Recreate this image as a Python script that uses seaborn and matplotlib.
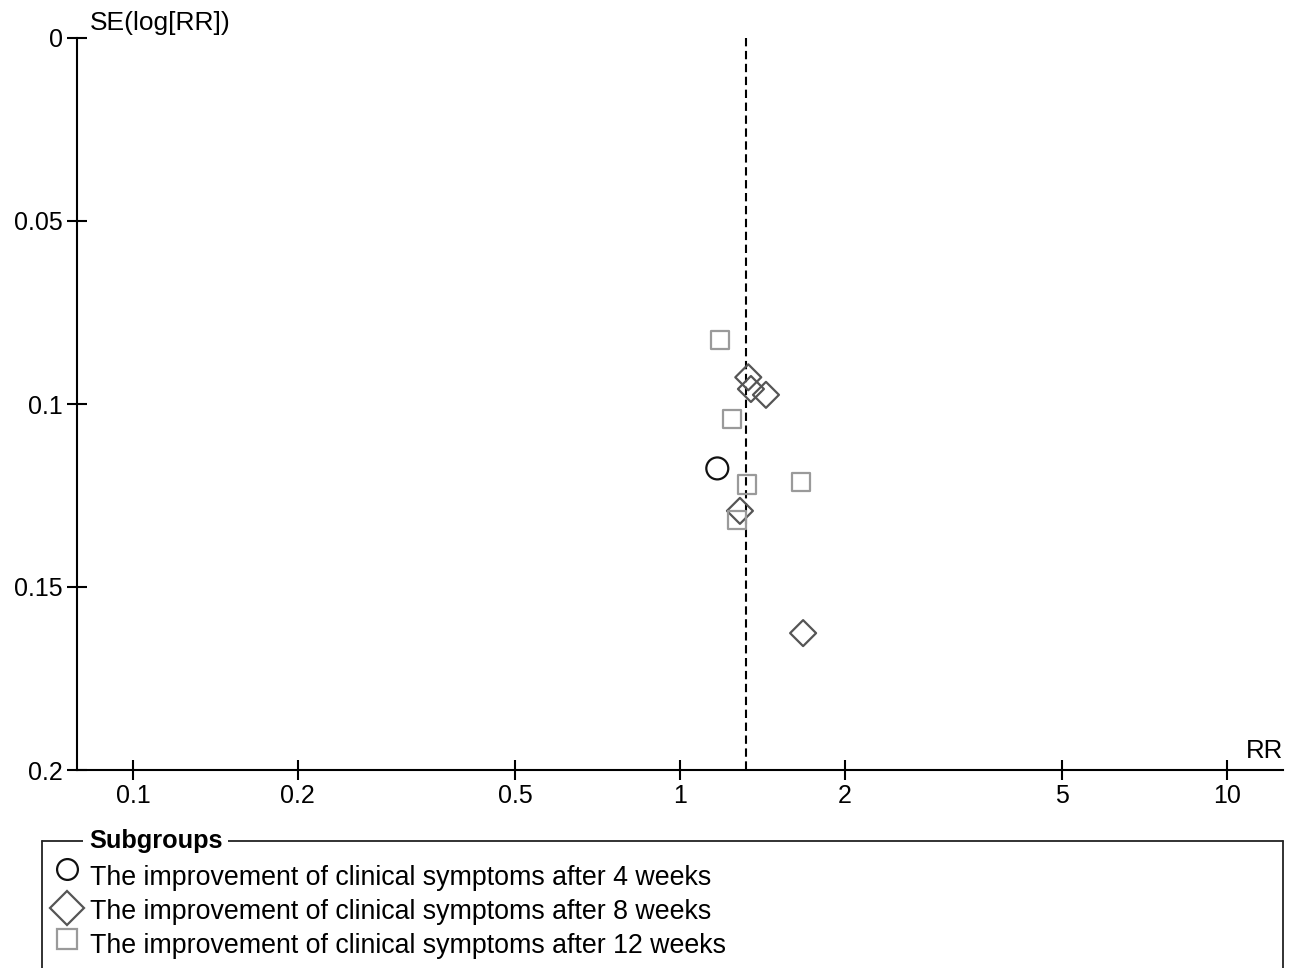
import numpy as np
import pandas as pd
import matplotlib
matplotlib.use("Agg")
import matplotlib.pyplot as plt
from matplotlib.lines import Line2D
import seaborn as sns

# ---- data ----
rr_4w = [1.170]
se_4w = [0.1176]
rr_8w = [1.333, 1.348, 1.436, 1.287, 1.679]
se_8w = [0.0927, 0.0959, 0.0975, 0.1292, 0.1626]
rr_12w = [1.183, 1.243, 1.324, 1.664, 1.273]
se_12w = [0.0825, 0.1041, 0.1220, 0.1214, 0.1317]
pooled_rr = 1.32

group_labels = [
    "The improvement of clinical symptoms after 4 weeks",
    "The improvement of clinical symptoms after 8 weeks",
    "The improvement of clinical symptoms after 12 weeks",
]
x_ticks = [0.1, 0.2, 0.5, 1, 2, 5, 10]
x_tick_labels = ["0.1", "0.2", "0.5", "1", "2", "5", "10"]
y_ticks = [0, 0.05, 0.1, 0.15, 0.2]
y_tick_labels = ["0", "0.05", "0.1", "0.15", "0.2"]

sns.set_style("white")
plt.rcParams["font.family"] = ["Liberation Sans", "DejaVu Sans"]
plt.rcParams["text.color"] = "black"

W, H = 1298, 968
fig = plt.figure(figsize=(W / 100, H / 100), dpi=100)
ax = fig.add_axes([77 / W, 1 - 770 / H, (1283 - 77) / W, (770 - 38) / H])

styles = [
    (rr_4w, se_4w, "o", 250, "#111111"),
    (rr_8w, se_8w, "D", 175, "#555555"),
    (rr_12w, se_12w, "s", 169, "#9a9a9a"),
]
for xs, ys, mk, sz, col in styles:
    df = pd.DataFrame({"RR": xs, "SE": ys})
    sns.scatterplot(data=df, x="RR", y="SE", marker=mk, s=sz,
                    facecolor="none", edgecolor=col, linewidth=1.6,
                    ax=ax, zorder=3, legend=False)

ax.plot([pooled_rr, pooled_rr], [0, 0.2], color="black", lw=1.5,
        linestyle=(0, (4, 2.2)), zorder=2)

ax.set_xscale("log")
ax.set_xlim(10 ** -1.1024, 10 ** 1.1024)
ax.set_ylim(0.2, 0)
ax.set_xticks(x_ticks)
ax.set_xticklabels(x_tick_labels)
ax.minorticks_off()
ax.set_yticks(y_ticks)
ax.set_yticklabels(y_tick_labels)
ax.set_xlabel("")
ax.set_ylabel("")
for s in ["top", "right"]:
    ax.spines[s].set_visible(False)
for s in ["left", "bottom"]:
    ax.spines[s].set_color("black")
    ax.spines[s].set_linewidth(1.5)
ax.tick_params(axis="x", bottom=True, top=False)
ax.tick_params(axis="y", left=True, right=False)
ax.tick_params(axis="both", direction="inout", length=14, width=1.5,
               pad=3, labelsize=18, colors="black", labelcolor="black")

fig.text(90 / W, 1 - 23 / H, "SE(log[RR])", ha="left", va="center", fontsize=19, color="black")
fig.text(1283 / W, 1 - 751 / H, "RR", ha="right", va="center", fontsize=18.5, color="black")

# ---- legend box (fieldset style) ----
top = 1 - 841 / H
lx, rx = 42 / W, 1283 / W
lc = "#222222"
fig.add_artist(Line2D([lx, rx], [top, top], color=lc, lw=1.3, transform=fig.transFigure))
fig.add_artist(Line2D([lx, lx], [top, -0.01], color=lc, lw=1.3, transform=fig.transFigure))
fig.add_artist(Line2D([rx, rx], [top, -0.01], color=lc, lw=1.3, transform=fig.transFigure))
fig.text(89 / W, top, "Subgroups", ha="left", va="center", fontsize=18.3, color="black",
         fontweight="bold", bbox=dict(facecolor="white", edgecolor="none", pad=4))

leg_markers = [("o", 15, "#111111", 869), ("D", 17, "#555555", 908), ("s", 14.4, "#9a9a9a", 939)]
text_y = [878, 912, 946]
for (mk, ms, col, my), ty, lab in zip(leg_markers, text_y, group_labels):
    fig.add_artist(Line2D([67 / W], [1 - my / H], marker=mk, markersize=ms,
                          markerfacecolor="none", markeredgecolor=col,
                          markeredgewidth=1.6, linestyle="none",
                          transform=fig.transFigure))
    fig.text(90 / W, 1 - ty / H, lab, ha="left", va="center", fontsize=19.3, color="black")

fig.savefig("out.png", dpi=100)
